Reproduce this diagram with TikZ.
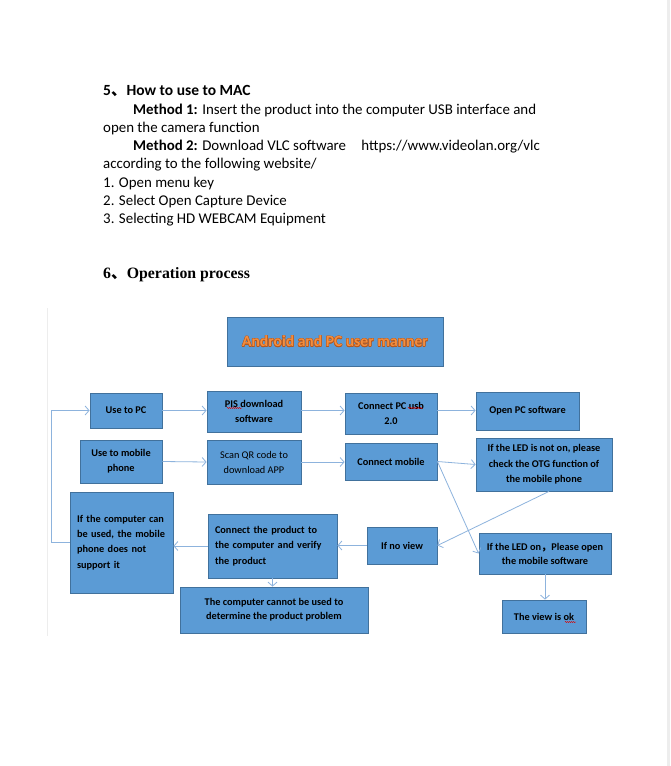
\documentclass[tikz,border=0pt]{standalone}
\usepackage{fontspec}
\setmainfont{Carlito}
\newfontfamily\cjkfont{Noto Sans CJK SC}
\newfontfamily\timesfont{Liberation Serif}
\usetikzlibrary{arrows.meta,decorations.pathmorphing}
\definecolor{boxblue}{HTML}{5B9BD5}
\definecolor{boxedge}{HTML}{41719C}
\definecolor{arrowc}{HTML}{8DB3DD}
\definecolor{titleor}{HTML}{F28E40}
\definecolor{titledk}{HTML}{B5561C}
\definecolor{framec}{HTML}{EDEDED}
\tikzset{
  box/.style={draw=boxedge, fill=boxblue, line width=0.8pt, inner sep=1pt,
    align=center, font=\fontsize{10.3}{15}\selectfont\bfseries},
  arr/.style={draw=arrowc, line width=0.8pt, -{Straight Barb[length=4pt,width=9pt,line width=0.8pt]}},
  para/.style={anchor=base west, inner sep=0pt, font=\fontsize{14.9}{18}\selectfont},
  squig/.style={draw=red!85!black, line width=0.4pt, decorate,
    decoration={snake, amplitude=0.6pt, segment length=2pt}},
  ttl/.style={inner sep=0pt, font=\fontsize{15.6}{17}\selectfont\bfseries}
}
\begin{document}
\begin{tikzpicture}[x=1pt,y=-1pt]
\useasboundingbox (0,0) rectangle (670,766);
\fill[white] (0,0) rectangle (670,766);
\fill[framec] (667,0) rectangle (670,766);
\draw[framec, line width=1pt] (47,308) -- (47,636);

% ---- top text ----
\node[para, font=\fontsize{15.5}{18}\selectfont\bfseries] (l1) at (103,95) {5{\cjkfont 、}How to use to MAC};
\node[para] (l2) at (133,114) {\textbf{Method 1:} Insert the product into the computer USB interface and};
\node[para] (l3) at (103,132) {open the camera function};
\node[para] (l4) at (133,150) {\textbf{Method 2:} Download VLC software\hspace{12pt} https://www.videolan.org/vlc};
\node[para] (l5) at (103,168) {according to the following website/};
\node[para] (l6) at (103,187) {1. Open menu key};
\node[para] (l7) at (103,205) {2. Select Open Capture Device};
\node[para] (l8) at (103,223) {3. Selecting HD WEBCAM Equipment};
\node[para, font=\fontsize{15.8}{18}\selectfont\timesfont\bfseries] (l9) at (103,278) {6{\cjkfont 、}Operation process};

% ---- title ----
\node[box, minimum width=216, minimum height=49] (title) at (335,341.5) {};
\foreach \dx/\dy in {0.5/0,-0.5/0,0/0.5,0/-0.5,0.35/0.35,-0.35/0.35,0.35/-0.35,-0.35/-0.35}{
  \node[ttl, text=titledk] at ([xshift=\dx pt, yshift=\dy pt]title.center) {Android and PC user manner};
}
\node[ttl, text=titleor] (ttltext) at (title.center) {Android and PC user manner};

% ---- boxes ----
\node[box, minimum width=72, minimum height=35] (pc) at (126,410.5) {Use to PC};
\node[box, minimum width=94, minimum height=41] (pis) at (254,411.5) {PIS download\\software};
\node[box, minimum width=92, minimum height=41] (usb) at (391,413.5) {Connect PC usb\\2.0};
\node[box, minimum width=103, minimum height=38] (open) at (527.5,411) {Open PC software};
\node[box, minimum width=82, minimum height=43] (mob) at (121,461.5) {Use to mobile\\phone};
\node[box, minimum width=94, minimum height=44, font=\fontsize{10.3}{15}\selectfont] (qr) at (254,462) {Scan QR code to\\download APP};
\node[box, minimum width=92, minimum height=37] (cmob) at (391,461.5) {Connect mobile};
\node[box, minimum width=136, minimum height=53, font=\fontsize{10.3}{15.5}\selectfont\bfseries] (ledoff) at (544,464.5) {If the LED is not on, please\\check the OTG function of\\the mobile phone};
\node[box, minimum width=103, minimum height=101, text width=89, align=left, font=\fontsize{10.3}{15.3}\selectfont\bfseries] (comp) at (121.5,542.5)
  {\makebox[\linewidth][s]{If the computer can}\\\makebox[\linewidth][s]{be used, the mobile}\\\makebox[\linewidth][s]{phone does not}\\support it};
\node[box, minimum width=129, minimum height=64, text width=115, align=left, font=\fontsize{10.3}{15.5}\selectfont\bfseries] (verify) at (272.5,546)
  {\makebox[\linewidth][s]{Connect the product to}\\\makebox[\linewidth][s]{the computer and verify}\\the product};
\node[box, minimum width=70, minimum height=37] (noview) at (402,545.5) {If no view};
\node[box, minimum width=132, minimum height=41, font=\fontsize{10.3}{14}\selectfont\bfseries] (ledon) at (545,553.5) {If the LED on{\cjkfont ，}Please open\\the mobile software};
\node[box, minimum width=188, minimum height=46, font=\fontsize{10.3}{14}\selectfont\bfseries] (cannot) at (274,610) {The computer cannot be used to\\determine the product problem};
\node[box, minimum width=84, minimum height=33] (ok) at (544,616.5) {The view is ok};

% ---- spell-check squiggles ----
\draw[squig] ([xshift=-27,yshift=3.5]pis.center) -- ++(15,0);
\draw[squig] ([xshift=17,yshift=5.5]usb.center) -- ++(15,0);
\draw[squig] ([xshift=21,yshift=-5.5]ok.center) -- ++(11,0);

% ---- connectors ----
\draw[arr] (pc.east) -- (pc.east -| pis.west);
\draw[arr] (pis.east |- pc.east) -- (pc.east -| usb.west);
\draw[arr] (usb.east |- pc.east) -- (pc.east -| open.west);
\draw[arr] (mob.east) -- (qr.west);
\draw[arr] (qr.east) -- (qr.east -| cmob.west);
\draw[arr] (cmob.east) -- (ledoff.west);
\draw[arr] (cmob.east) -- (ledon.west);
\draw[arr] ([xshift=5]ledoff.south) -- (noview.east);
\draw[arr] (noview.west) -- (noview.west -| verify.east);
\draw[arr] (verify.west) -- (verify.west -| comp.east);
\draw[arr] (verify.south) -- (verify.south |- cannot.north);
\draw[arr] (ledon.south) -- (ledon.south |- ok.north);
\coordinate (loopc) at ([xshift=-18]comp.west);
\draw[arr] (comp.west) -- (loopc) |- (pc.west);
\end{tikzpicture}
\end{document}
